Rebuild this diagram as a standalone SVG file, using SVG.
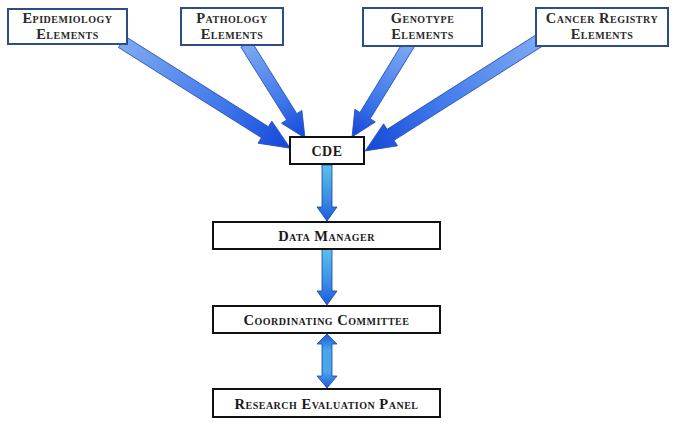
<svg xmlns="http://www.w3.org/2000/svg" width="685" height="424" viewBox="0 0 685 424">
<defs>
  <linearGradient id="gd" x1="0" y1="0" x2="1" y2="0">
    <stop offset="0" stop-color="#7eaaf2"/>
    <stop offset="0.6" stop-color="#3f78ea"/>
    <stop offset="1" stop-color="#1446d8"/>
  </linearGradient>
  <linearGradient id="gv" x1="0" y1="0" x2="0" y2="1">
    <stop offset="0" stop-color="#5cc0ea"/>
    <stop offset="0.6" stop-color="#3a8ee6"/>
    <stop offset="1" stop-color="#1a58e0"/>
  </linearGradient>
  <linearGradient id="gv2" x1="0" y1="0" x2="0" y2="1">
    <stop offset="0" stop-color="#1a58e0"/>
    <stop offset="0.3" stop-color="#4aa6ea"/>
    <stop offset="0.7" stop-color="#4aa6ea"/>
    <stop offset="1" stop-color="#1a58e0"/>
  </linearGradient>
</defs>
<style>
  .top rect { fill:#fff; stroke:#2e4d86; stroke-width:2; }
  .low rect { fill:#fff; stroke:#111; stroke-width:2; }
  text { font-family:"Liberation Serif","Times New Roman",serif; font-weight:bold; font-variant:small-caps; text-anchor:middle; letter-spacing:0.5px; }
  .top text { font-size:14.5px; fill:#2a2a2a; }
  .low text { font-size:14.5px; fill:#1a1a1a; }
  .da { fill:url(#gd); stroke:#2a4fb8; stroke-width:0.8; }
  .va { fill:url(#gv); stroke:#1f3f9a; stroke-width:0.8; }
</style>
<rect width="685" height="424" fill="#fff"/>
<g id="connectors">
  <g transform="translate(122,42) rotate(32.25)">
    <polygon class="da" points="0,-6.5 169,-6.5 169,-13 199,0 169,13 169,6.5 0,6.5"/>
  </g>
  <g transform="translate(246,44) rotate(57.9)">
    <polygon class="da" points="0,-6 86,-6 86,-12 111,0 86,12 86,6 0,6"/>
  </g>
  <g transform="translate(409,44) rotate(121.5)">
    <polygon class="da" points="0,-6 84,-6 84,-12 109,0 84,12 84,6 0,6"/>
  </g>
  <g transform="translate(540,40) rotate(147.6)">
    <polygon class="da" points="0,-6.5 177,-6.5 177,-13 207,0 177,13 177,6.5 0,6.5"/>
  </g>
  <polygon class="va" points="322,165 332,165 332,207 337,207 327,221 317,207 322,207"/>
  <polygon class="va" points="322,249 332,249 332,291 337,291 327,305 317,291 322,291"/>
  <polygon fill="url(#gv2)" stroke="#1f3f9a" stroke-width="0.8" points="327,334 337,344 332,344 332,376 337,376 327,388 317,376 322,376 322,344 317,344"/>
</g>
<g id="epidemiology" class="top">
  <rect x="8" y="9" width="119" height="35"/>
  <text x="67.5" y="23">Epidemiology</text>
  <text x="67.5" y="39">Elements</text>
</g>
<g id="pathology" class="top">
  <rect x="181" y="8" width="102" height="37"/>
  <text x="232" y="23">Pathology</text>
  <text x="232" y="39">Elements</text>
</g>
<g id="genotype" class="top">
  <rect x="363" y="8" width="119" height="38"/>
  <text x="422.5" y="23">Genotype</text>
  <text x="422.5" y="39">Elements</text>
</g>
<g id="cancer-registry" class="top">
  <rect x="536" y="8" width="132" height="38"/>
  <text x="602" y="23">Cancer Registry</text>
  <text x="602" y="39">Elements</text>
</g>
<g id="cde" class="low">
  <rect x="290" y="137" width="74" height="27"/>
  <text x="327" y="156" style="font-size:14px">CDE</text>
</g>
<g id="data-manager" class="low">
  <rect x="213" y="222" width="227" height="27"/>
  <text x="326.5" y="241">Data Manager</text>
</g>
<g id="coordinating-committee" class="low">
  <rect x="213" y="306" width="227" height="27"/>
  <text x="326.5" y="325">Coordinating Committee</text>
</g>
<g id="research-evaluation-panel" class="low">
  <rect x="213" y="389" width="227" height="28"/>
  <text x="326.5" y="408.5">Research Evaluation Panel</text>
</g>
</svg>
